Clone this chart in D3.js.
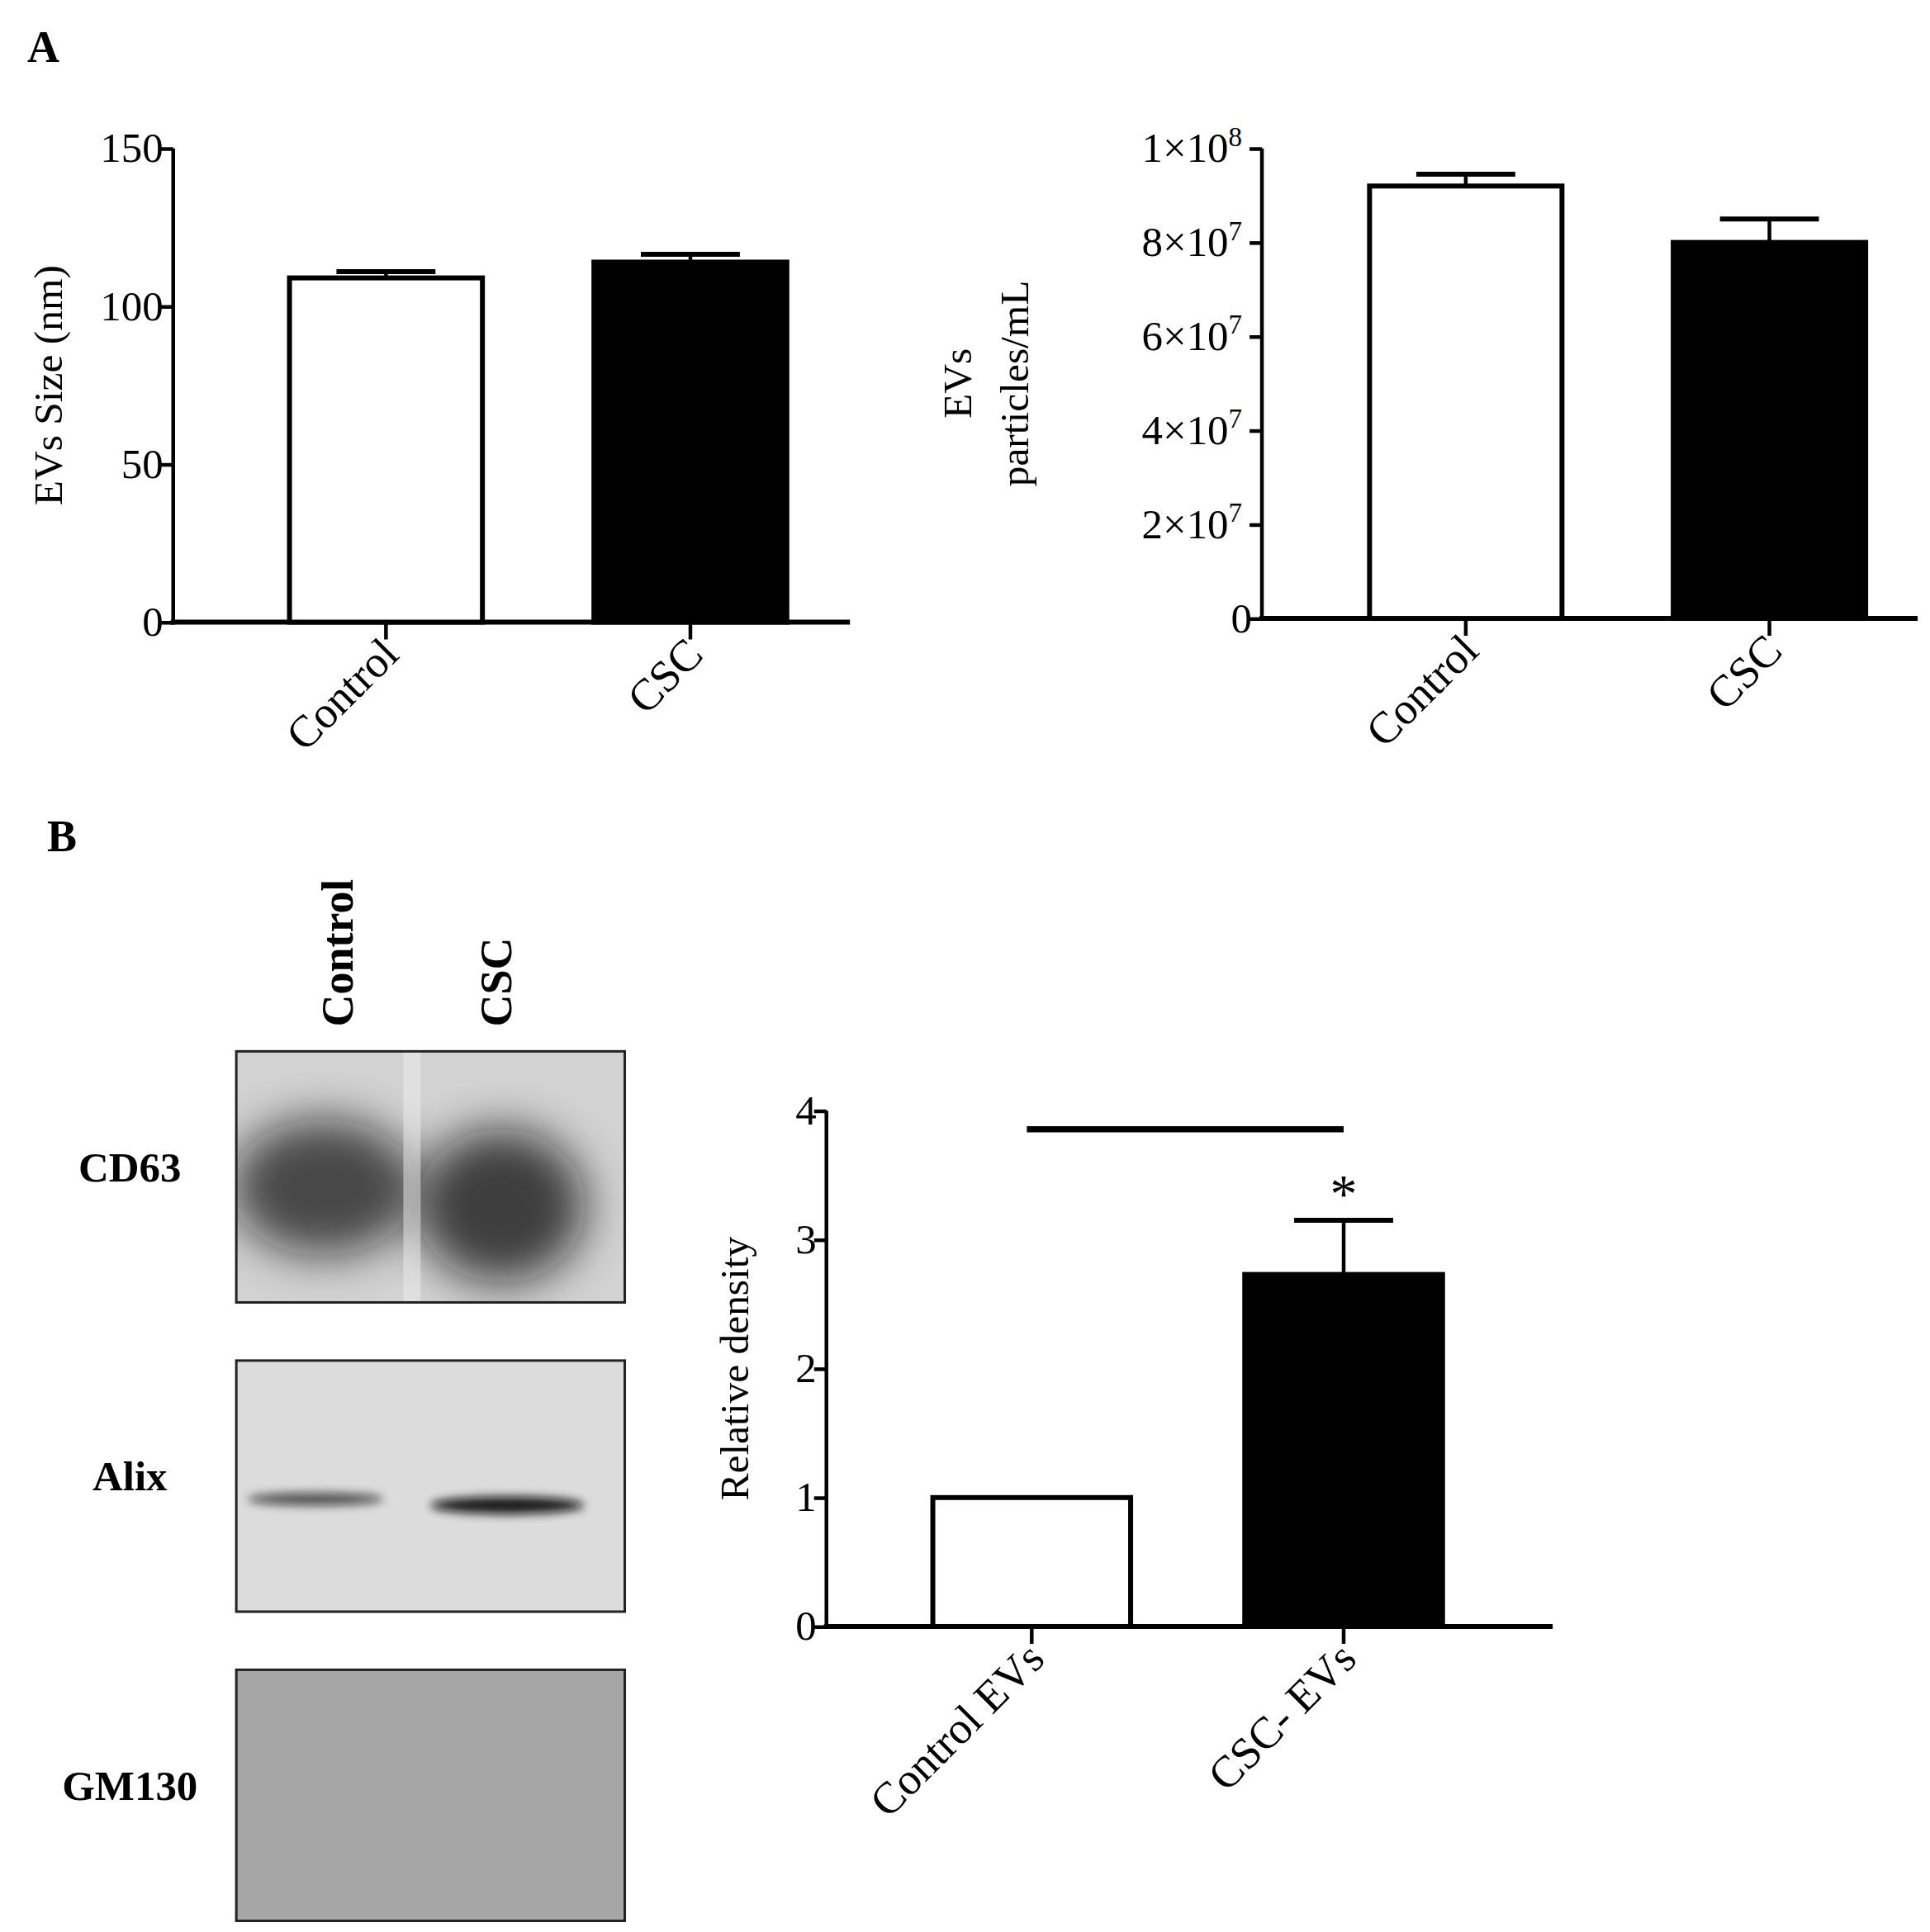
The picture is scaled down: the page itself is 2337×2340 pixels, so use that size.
<!DOCTYPE html>
<html><head><meta charset="utf-8">
<script src="https://cdn.jsdelivr.net/npm/d3@7"></script>
<style>body{margin:0;background:#fff}text{font-family:"Liberation Serif",serif}</style>
</head><body>
<script>
// data
const groups = ["Control", "CSC"];
const sizeMeans = [109, 114];
const sizeErr = [2, 2.5];
const sizeTicks = [0, 50, 100, 150];
const partMeans = [9.2e7, 8.0e7];
const partErr = [0.25e7, 0.5e7];
const partTicks = [0, 2e7, 4e7, 6e7, 8e7, 1e8];
const densGroups = ["Control EVs", "CSC- EVs"];
const densMeans = [1.0, 2.73];
const densErr = [0, 0.42];
const densTicks = [0, 1, 2, 3, 4];
const blotLabels = ["CD63", "Alix", "GM130"];
const fills = ["#fff", "#000"];

const svg = d3.select("body").append("svg")
  .attr("width", 2337).attr("height", 2340)
  .attr("viewBox", "0 0 1560 1562");

const defs = svg.append("defs");
defs.append("filter").attr("id", "blur").attr("x", "-60%").attr("y", "-60%").attr("width", "220%").attr("height", "220%")
  .append("feGaussianBlur").attr("stdDeviation", 18);
defs.append("filter").attr("id", "blur2").attr("x", "-30%").attr("y", "-200%").attr("width", "160%").attr("height", "500%")
  .append("feGaussianBlur").attr("stdDeviation", 4);

svg.append("text").attr("x", 22).attr("y", 50).attr("font-size", 36).attr("font-weight", "bold").text("A");
svg.append("text").attr("x", 38).attr("y", 688).attr("font-size", 36).attr("font-weight", "bold").text("B");

function barChart(o) {
  const g = svg.append("g");
  const y = d3.scaleLinear().domain(o.domain).range([o.bottom, o.top]);
  const x = d3.scaleBand().domain(o.cats).range(o.barRange).paddingInner(0.35).paddingOuter(0);
  g.append("g").attr("transform", `translate(${o.left},0)`)
    .call(d3.axisLeft(y).tickValues(o.ticks).tickSize(10).tickFormat(""))
    .call(a => a.select(".domain").remove());
  g.selectAll(".tick line").attr("stroke", "#000").attr("stroke-width", 3);
  g.append("line").attr("x1", o.left).attr("x2", o.left).attr("y1", o.top).attr("y2", o.bottom + 2)
    .attr("stroke", "#000").attr("stroke-width", 3);
  g.append("line").attr("x1", o.left - 2).attr("x2", o.right).attr("y1", o.bottom).attr("y2", o.bottom)
    .attr("stroke", "#000").attr("stroke-width", 4);
  o.ticks.forEach(t => {
    const tx = g.append("text").attr("x", o.left - 8).attr("y", y(t) + 11)
      .attr("text-anchor", "end").attr("font-size", 34);
    o.fmt(tx, t);
  });
  o.cats.forEach((c, i) => {
    if (!o.err[i]) return;
    const cx = x(c) + x.bandwidth() / 2;
    g.append("line").attr("x1", cx).attr("x2", cx).attr("y1", y(o.means[i])).attr("y2", y(o.means[i] + o.err[i]))
      .attr("stroke", "#000").attr("stroke-width", 3);
    g.append("line").attr("x1", cx - 40).attr("x2", cx + 40)
      .attr("y1", y(o.means[i] + o.err[i])).attr("y2", y(o.means[i] + o.err[i]))
      .attr("stroke", "#000").attr("stroke-width", 4);
  });
  g.selectAll("rect.bar").data(o.means).join("rect")
    .attr("x", (d, i) => x(o.cats[i]) + 2).attr("width", x.bandwidth() - 4)
    .attr("y", d => y(d)).attr("height", d => o.bottom - y(d))
    .attr("fill", (d, i) => fills[i]).attr("stroke", "#000").attr("stroke-width", 4);
  o.cats.forEach(c => {
    const cx = x(c) + x.bandwidth() / 2;
    g.append("line").attr("x1", cx).attr("x2", cx).attr("y1", o.bottom).attr("y2", o.bottom + 14)
      .attr("stroke", "#000").attr("stroke-width", 3);
    g.append("text").attr("transform", `translate(${cx + 12},${o.bottom + 28}) rotate(-45)`)
      .attr("text-anchor", "end").attr("font-size", 36).text(c);
  });
  const ly = (o.top + o.bottom) / 2;
  o.ytitle.forEach((t, k) => {
    g.append("text").attr("transform", `translate(${o.titleX + k * 46},${ly}) rotate(-90)`)
      .attr("text-anchor", "middle").attr("font-size", 33).text(t);
  });
  return {x, y};
}

barChart({cats: groups, means: sizeMeans, err: sizeErr, domain: [0, 150], ticks: sizeTicks,
  left: 140, right: 687, top: 120, bottom: 503, barRange: [232, 638], titleX: 50, ytitle: ["EVs Size (nm)"],
  fmt: (t, v) => t.text(v)});

barChart({cats: groups, means: partMeans, err: partErr, domain: [0, 1e8], ticks: partTicks,
  left: 1020, right: 1550, top: 120, bottom: 500, barRange: [1105, 1510], titleX: 785, ytitle: ["EVs", "particles/mL"],
  fmt: (t, v) => {
    if (v === 0) { t.text("0"); return; }
    const e = Math.floor(Math.log10(v));
    t.attr("x", 1004).text(`${Math.round(v / 10 ** e)}×10`);
    t.append("tspan").attr("dy", -13).attr("font-size", 22).text(e);
  }});

const d = barChart({cats: densGroups, means: densMeans, err: densErr, domain: [0, 4], ticks: densTicks,
  left: 668, right: 1255, top: 898, bottom: 1315, barRange: [752, 1168], titleX: 605, ytitle: ["Relative density"],
  fmt: (t, v) => t.text(v)});
const sx = d.x("CSC- EVs") + d.x.bandwidth() / 2;
svg.append("line").attr("x1", 830).attr("x2", sx).attr("y1", 913).attr("y2", 913)
  .attr("stroke", "#000").attr("stroke-width", 5);
svg.append("text").attr("x", sx).attr("y", 980).attr("text-anchor", "middle").attr("font-size", 44).text("*");

// blots
const blotTop = [850, 1100, 1350];
const bands = [
  [{cx: 262, cy: 960, rx: 75, ry: 55, o: 0.7}, {cx: 405, cy: 975, rx: 68, ry: 62, o: 0.75}],
  [{cx: 255, cy: 1212, rx: 55, ry: 5, o: 0.7}, {cx: 410, cy: 1217, rx: 62, ry: 7, o: 0.95}],
  []
];
const bg = ["#d2d2d2", "#dcdcdc", "#a6a6a6"];
blotTop.forEach((t, i) => {
  const cp = defs.append("clipPath").attr("id", "cp" + i);
  cp.append("rect").attr("x", 191).attr("y", t).attr("width", 314).attr("height", 203);
  svg.append("rect").attr("x", 191).attr("y", t).attr("width", 314).attr("height", 203).attr("fill", bg[i]);
  const bg2 = svg.append("g").attr("clip-path", `url(#cp${i})`);
  bands[i].forEach(b => {
    bg2.append("ellipse").attr("cx", b.cx).attr("cy", b.cy).attr("rx", b.rx).attr("ry", b.ry)
      .attr("fill", "#111").attr("opacity", b.o).attr("filter", i === 0 ? "url(#blur)" : "url(#blur2)");
  });
  if (i === 0) bg2.append("rect").attr("x", 326).attr("y", t).attr("width", 14).attr("height", 203)
    .attr("fill", "#eee").attr("opacity", 0.5);
  svg.append("rect").attr("x", 191).attr("y", t).attr("width", 314).attr("height", 203)
    .attr("fill", "none").attr("stroke", "#222").attr("stroke-width", 2);
  svg.append("text").attr("x", 105).attr("y", t + 105).attr("text-anchor", "middle")
    .attr("font-size", 34).attr("font-weight", "bold").text(blotLabels[i]);
});
[["Control", 285], ["CSC", 413]].forEach(([t, x]) => {
  svg.append("text").attr("transform", `translate(${x},830) rotate(-90)`)
    .attr("font-size", 36).attr("font-weight", "bold").text(t);
});
</script>
</body></html>
